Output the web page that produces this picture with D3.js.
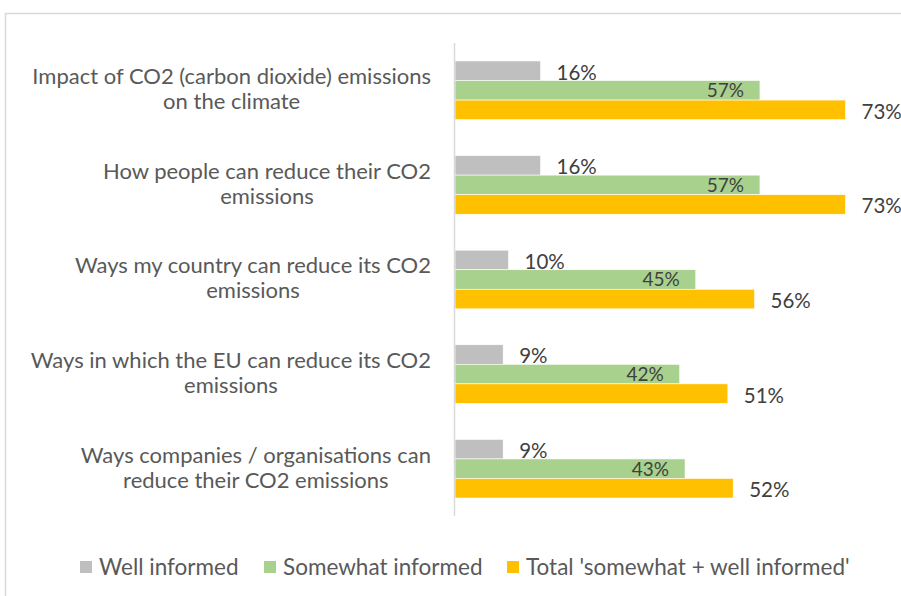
<!DOCTYPE html>
<html>
<head>
<meta charset="utf-8">
<script src="https://cdn.jsdelivr.net/npm/d3@7"></script>
<style>
  html, body { margin: 0; padding: 0; background: #fff; }
  svg { display: block; }
  text { font-family: Lato, "Open Sans", sans-serif; }
</style>
</head>
<body>
<svg id="chart" width="901" height="596"></svg>
<script>
// Survey topics (each entry is the list of wrapped lines)
const categories = [
  ["Impact of CO2 (carbon dioxide) emissions", "on the climate"],
  ["How people can reduce their CO2", "emissions"],
  ["Ways my country can reduce its CO2", "emissions"],
  ["Ways in which the EU can reduce its CO2", "emissions"],
  ["Ways companies / organisations can", "reduce their CO2 emissions"]
];
const seriesNames = ["Well informed", "Somewhat informed", "Total 'somewhat + well informed'"];
const wellInformed = [16, 16, 10, 9, 9];
const somewhatInformed = [57, 57, 45, 42, 43];
const totalInformed = [73, 73, 56, 51, 52];
const seriesColors = ["#bfbfbf", "#a9d18e", "#ffc000"];

const seriesValues = [wellInformed, somewhatInformed, totalInformed];

const svg = d3.select("#chart");

// Outer chart frame
svg.append("rect")
  .attr("x", 5.5).attr("y", 13.5)
  .attr("width", 1000).attr("height", 1000)
  .attr("fill", "none").attr("stroke", "#d9d9d9").attr("stroke-width", 1.5);

const plotTop = 43, plotBottom = 516, axisX = 455;

const x = d3.scaleLinear().domain([0, 80]).range([axisX, axisX + 80 * 5.35]);
const y = d3.scaleBand()
  .domain(d3.range(categories.length))
  .range([plotTop, plotBottom])
  .paddingInner(0.38)
  .paddingOuter(0.19);
const ySub = d3.scaleBand()
  .domain(d3.range(seriesNames.length))
  .range([0, y.bandwidth()]);

const groups = svg.append("g").selectAll("g.cat")
  .data(categories)
  .join("g")
  .attr("class", "cat")
  .attr("transform", (d, i) => `translate(0,${y(i)})`);

// Bars with value labels
groups.each(function(d, i) {
  const g = d3.select(this);
  seriesValues.forEach((vals, s) => {
    const v = vals[i];
    g.append("rect")
      .attr("x", x(0))
      .attr("y", ySub(s))
      .attr("width", x(v) - x(0))
      .attr("height", ySub.bandwidth())
      .attr("fill", seriesColors[s])
      .attr("stroke", "#ffffff")
      .attr("stroke-width", 0.6);
    const cy = ySub(s) + ySub.bandwidth() / 2;
    if (s === 1) {
      g.append("text")
        .attr("x", x(v) - 16)
        .attr("y", cy)
        .attr("dy", "0.36em")
        .attr("text-anchor", "end")
        .attr("font-size", 19)
        .attr("fill", "#404040")
        .text(v + "%");
    } else {
      g.append("text")
        .attr("x", x(v) + 16)
        .attr("y", cy + 1.5)
        .attr("dy", "0.36em")
        .attr("font-size", 20.5)
        .attr("fill", "#404040")
        .text(v + "%");
    }
  });
});

// Category axis line
svg.append("line")
  .attr("x1", axisX - 0.5).attr("x2", axisX - 0.5)
  .attr("y1", plotTop).attr("y2", plotBottom)
  .attr("stroke", "#d9d9d9").attr("stroke-width", 1.5);

// Category labels: centred block, right edge at the axis gutter
const labelRight = 431, lineGap = 25;
groups.each(function(lines, i) {
  const g = d3.select(this);
  const cy = y.bandwidth() / 2;
  const t = g.append("text")
    .attr("font-size", 22)
    .attr("fill", "#595959")
    .attr("text-anchor", "middle");
  const spans = lines.map((line, k) =>
    t.append("tspan")
      .attr("y", cy + (k - (lines.length - 1) / 2) * lineGap + 6.5)
      .text(line));
  const maxW = d3.max(spans, s => s.node().getComputedTextLength());
  spans.forEach(s => s.attr("x", labelRight - maxW / 2));
});

// Legend
const legendItems = [
  { sx: 80, tx: 99 },
  { sx: 264, tx: 283 },
  { sx: 507, tx: 526 }
];
const legend = svg.append("g");
seriesNames.forEach((name, s) => {
  legend.append("rect")
    .attr("x", legendItems[s].sx).attr("y", 561)
    .attr("width", 12).attr("height", 12)
    .attr("fill", seriesColors[s]);
  legend.append("text")
    .attr("x", legendItems[s].tx).attr("y", 575)
    .attr("font-size", 22.5)
    .attr("fill", "#595959")
    .text(name);
});
</script>
</body>
</html>
